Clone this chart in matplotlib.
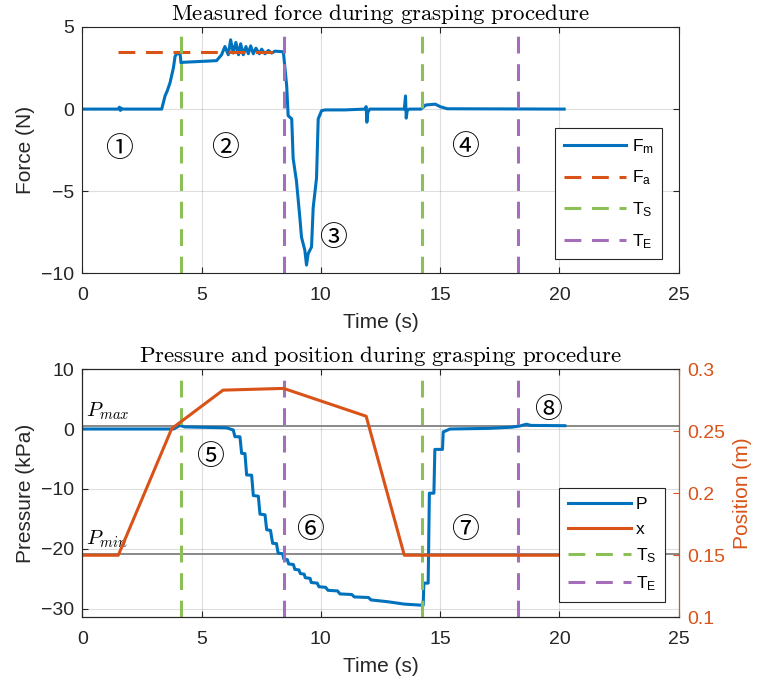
import matplotlib
matplotlib.use("Agg")
import matplotlib.pyplot as plt
from matplotlib.font_manager import FontProperties

# force measurement (t in s, F in N)
t_force = [0, 1.5, 1.56, 1.6, 1.64, 1.7, 3.33, 3.47, 3.56, 3.68, 3.82, 3.89, 3.96,
           4.10, 4.14, 4.23, 5.63, 5.84, 5.98, 6.12, 6.22, 6.33, 6.44, 6.55, 6.64,
           6.75, 6.86, 6.96, 7.06, 7.17, 7.28, 7.42, 7.52, 7.66, 7.80, 7.94, 8.08,
           8.43, 8.57, 8.63, 8.78, 8.84, 8.98, 9.12, 9.19, 9.33, 9.40, 9.47, 9.61,
           9.68, 9.82, 9.89, 10.03, 10.17, 11.0, 11.85, 11.9, 11.93, 11.97, 12.05,
           13.5, 13.55, 13.58, 13.62, 13.7, 14.2, 14.4, 14.8, 15.0, 15.3, 20.2]
f_meas = [0, 0, 0.12, -0.08, 0.05, 0, 0, 0.8, 1.1, 1.61, 2.51, 3.21, 3.37,
          3.37, 2.81, 2.85, 2.95, 3.31, 3.81, 3.31, 4.22, 3.41, 4.06, 3.31, 3.98,
          3.31, 3.81, 3.37, 3.85, 3.37, 3.71, 3.37, 3.65, 3.37, 3.57, 3.41, 3.53,
          3.49, 1.4, -0.4, -0.6, -3.0, -4.4, -6.6, -7.8, -8.6, -9.5, -8.8, -8.4,
          -6.0, -4.2, -0.6, -0.1, -0.05, -0.05, 0, 0.15, -0.8, -0.2, 0,
          0, 0.8, -0.55, -0.1, 0, 0, 0.25, 0.3, 0.15, 0.02, 0]
t_fa = [1.5, 8.44]
f_app = [3.45, 3.45]

# pressure measurement (kPa)
t_press = [0, 3.83, 4.09, 4.3, 6.05, 6.33, 6.40, 6.61, 6.68, 6.82, 6.89, 7.10,
           7.17, 7.38, 7.45, 7.66, 7.73, 7.89, 7.98, 8.14, 8.21, 8.40, 8.45, 8.60,
           8.65, 8.85, 8.91, 9.08, 9.14, 9.30, 9.35, 9.55, 9.60, 9.85, 9.92, 10.2,
           10.3, 10.7, 10.8, 11.3, 11.4, 12.0, 12.1, 12.8, 13.5, 14.29, 14.32,
           14.50, 14.55, 14.74, 14.78, 15.10, 15.13, 15.41, 17.0, 18.0, 18.34,
           18.62, 18.8, 20.23]
p_meas = [0, 0, 0.6, 0.35, 0.2, -0.17, -1.28, -1.3, -4.06, -4.1, -7.67, -7.7,
          -11.1, -11.2, -14.2, -14.3, -16.8, -16.9, -19.06, -19.1, -20.7, -20.8,
          -21.7, -21.8, -22.5, -22.6, -23.4, -23.5, -24.1, -24.2, -24.8, -24.9,
          -25.6, -25.7, -26.3, -26.4, -26.9, -27.0, -27.5, -27.6, -28.0, -28.1,
          -28.5, -28.8, -29.2, -29.4, -25.7, -25.7, -10.7, -10.7, -3.4, -3.4,
          -0.5, 0, 0.1, 0.3, 0.5, 0.8, 0.6, 0.55]

# gripper position (m)
t_pos = [0, 1.51, 3.75, 5.9, 8.44, 11.9, 13.5, 20.2]
x_pos = [0.15, 0.15, 0.252, 0.283, 0.2844, 0.262, 0.15, 0.15]

t_start = [4.15, 14.25]
t_end = [8.45, 18.26]
p_max = 0.5
p_min = -20.8

phase_labels = ["①", "②", "③", "④", "⑤", "⑥", "⑦", "⑧"]
phase_t = [1.54, 5.98, 10.52, 16.04, 5.35, 9.54, 16.04, 19.53]
phase_y = [-2.4, -2.37, -7.83, -2.3, -4.6, -16.8, -16.8, 3.2]

BLUE = "#0072BD"
ORANGE = "#D95319"
GREEN = "#8DBF57"
PURPLE = "#A56EBA"
DARK = "#262626"

plt.rcParams["font.family"] = ["Liberation Sans", "DejaVu Sans"]
plt.rcParams["mathtext.fontset"] = "custom"
plt.rcParams["mathtext.rm"] = "Liberation Sans"
plt.rcParams["mathtext.it"] = "Liberation Sans:italic"
plt.rcParams["axes.edgecolor"] = DARK
plt.rcParams["axes.linewidth"] = 0.8
plt.rcParams["xtick.color"] = DARK
plt.rcParams["ytick.color"] = DARK
plt.rcParams["xtick.direction"] = "in"
plt.rcParams["ytick.direction"] = "in"
plt.rcParams["xtick.major.size"] = 4
plt.rcParams["ytick.major.size"] = 4

TICK_FS = 14
LABEL_FS = 15
DASH = (5.5, 3.5)


def style_axes(ax):
    ax.set_xlim(0, 25)
    ax.set_xticks([0, 5, 10, 15, 20, 25])
    ax.tick_params(labelsize=TICK_FS, top=True, pad=6)
    ax.tick_params(axis="x", pad=10)
    ax.grid(True, color=DARK, alpha=0.15, linewidth=0.8)
    ax.set_axisbelow(True)
    ax.set_xlabel("Time (s)", fontsize=LABEL_FS, color=DARK, labelpad=6)


def cm_title(ax, text):
    ax.set_title(r"$\mathrm{" + text.replace(" ", r"\ ") + "}$",
                 fontsize=16.5, math_fontfamily="cm", pad=5, color="black")


def phase_marks(ax, idx):
    for i in idx:
        ax.text(phase_t[i], phase_y[i], phase_labels[i], fontsize=20,
                ha="center", va="center",
                family=["Noto Sans CJK JP", "DejaVu Sans"])


def legend_box(ax, handles, labels, anchor, spacing):
    prop = FontProperties(family="Liberation Sans", size=12.5)
    leg = ax.legend(handles, labels, loc="upper left", bbox_to_anchor=anchor,
                    prop=prop, frameon=True, fancybox=False, framealpha=1,
                    edgecolor=DARK, handlelength=3.6, handletextpad=0.3,
                    labelspacing=spacing, borderpad=0.5, borderaxespad=0)
    leg.get_frame().set_linewidth(0.8)
    return leg


def force_plot(ax):
    h_m, = ax.plot(t_force, f_meas, color=BLUE, lw=2.2)
    h_a, = ax.plot(t_fa, f_app, color=ORANGE, lw=2.2, ls="--", dashes=DASH)
    h_s = None
    h_e = None
    for ts in t_start:
        h_s = ax.axvline(ts, color=GREEN, lw=2.2, ls="--", dashes=DASH)
    for te in t_end:
        h_e = ax.axvline(te, color=PURPLE, lw=2.2, ls="--", dashes=DASH)
    ax.set_ylim(-10, 5)
    ax.set_yticks([-10, -5, 0, 5])
    ax.tick_params(right=True)
    ax.set_ylabel("Force (N)", fontsize=LABEL_FS, color=DARK, labelpad=4)
    style_axes(ax)
    cm_title(ax, "Measured force during grasping procedure")
    phase_marks(ax, [0, 1, 2, 3])
    legend_box(ax, [h_m, h_a, h_s, h_e],
               [r"F$_{\mathrm{m}}$", r"F$_{\mathrm{a}}$",
                r"T$_{\mathrm{S}}$", r"T$_{\mathrm{E}}$"],
               (0.793, 0.589), 0.75)


def pressure_plot(ax):
    ax2 = ax.twinx()
    ax.axhline(p_max, color="#808080", lw=1.3)
    ax.axhline(p_min, color="#808080", lw=1.3)
    ax.text(0.15, p_max + 0.6, r"$P_{max}$", fontsize=15,
            math_fontfamily="cm", va="bottom", ha="left")
    ax.text(0.15, p_min + 0.6, r"$P_{min}$", fontsize=15,
            math_fontfamily="cm", va="bottom", ha="left")
    h_p, = ax.plot(t_press, p_meas, color=BLUE, lw=2.2)
    h_s = None
    h_e = None
    for ts in t_start:
        h_s = ax.axvline(ts, color=GREEN, lw=2.2, ls="--", dashes=DASH)
    for te in t_end:
        h_e = ax.axvline(te, color=PURPLE, lw=2.2, ls="--", dashes=DASH)
    ax.set_ylim(-31.4, 10)
    ax.set_yticks([-30, -20, -10, 0, 10])
    ax.set_ylabel("Pressure (kPa)", fontsize=LABEL_FS, color=DARK, labelpad=4)
    style_axes(ax)
    cm_title(ax, "Pressure and position during grasping procedure")
    phase_marks(ax, [4, 5, 6, 7])

    h_x, = ax2.plot(t_pos, x_pos, color=ORANGE, lw=2.2)
    ax2.set_ylim(0.1, 0.3)
    ax2.set_yticks([0.1, 0.15, 0.2, 0.25, 0.3])
    ax2.set_yticklabels(["0.1", "0.15", "0.2", "0.25", "0.3"])
    ax2.tick_params(axis="y", colors=ORANGE, labelsize=TICK_FS, pad=6)
    ax2.spines["right"].set_color(ORANGE)
    ax2.set_ylabel("Position (m)", fontsize=LABEL_FS, color=ORANGE, labelpad=6)
    ax.tick_params(axis="y", right=False)
    legend_box(ax2, [h_p, h_x, h_s, h_e],
               ["P", "x", r"T$_{\mathrm{S}}$", r"T$_{\mathrm{E}}$"],
               (0.80, 0.52), 0.55)


def main():
    fig = plt.figure(figsize=(7.61, 6.80), dpi=100)
    ax_top = fig.add_axes([0.1081, 0.5981, 0.7837, 0.3622])
    ax_bot = fig.add_axes([0.1081, 0.0922, 0.7837, 0.3651])
    force_plot(ax_top)
    pressure_plot(ax_bot)
    fig.savefig("out.png", dpi=100)


if __name__ == "__main__":
    main()
